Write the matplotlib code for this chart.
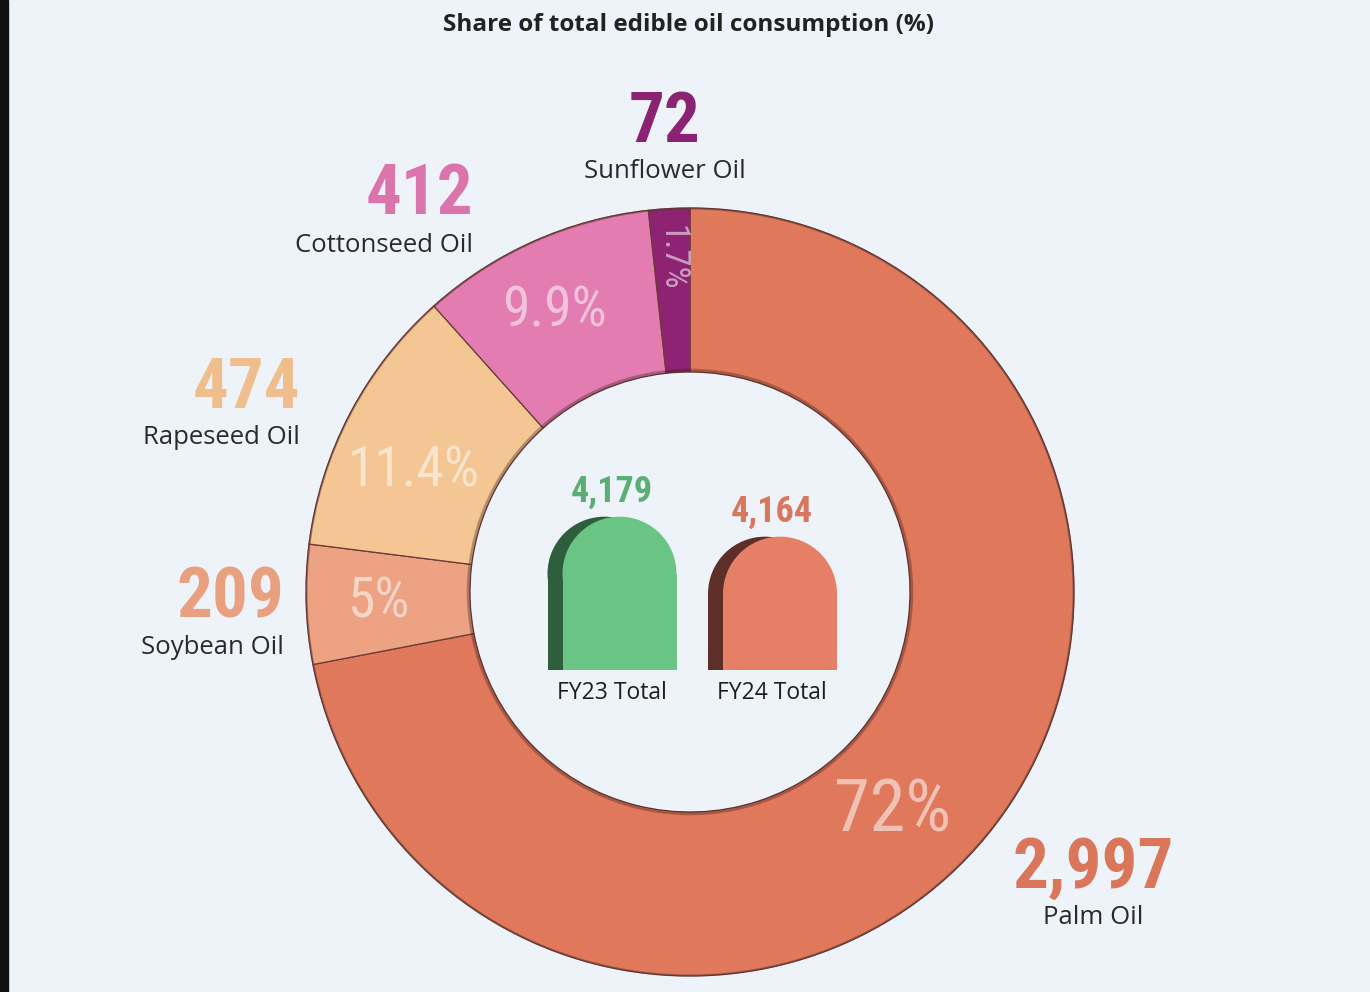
import matplotlib
matplotlib.use('Agg')
import matplotlib.pyplot as plt
from matplotlib.patches import Ellipse, Circle, Rectangle
import numpy as np

# data
OILS = ['Palm Oil', 'Soybean Oil', 'Rapeseed Oil', 'Cottonseed Oil', 'Sunflower Oil']
VOLUMES = [2997, 209, 474, 412, 72]
SHARE_LABELS = ['72%', '5%', '11.4%', '9.9%', '1.7%']
TOTAL_NAMES = ['FY23 Total', 'FY24 Total']
TOTALS = [4179, 4164]

WEDGE_COLORS = ['#E0785C', '#ECA283', '#F3C694', '#E27CB1', '#8E2373']
VALUE_COLORS = ['#DA7659', '#E8A07F', '#F0BE8C', '#DA74AA', '#8B2372']
BAR_COLORS = ['#6AC584', '#E57F66']
BAR_SHADE = ['#2F5E3C', '#5E2F28']
TOTAL_TEXT = ['#5BAF74', '#D9765E']

BG = '#EDF3F9'
NUM_FONT = ['Roboto Condensed', 'DejaVu Sans']
TXT_FONT = ['Open Sans', 'DejaVu Sans']

W, H = 1370, 992
fig = plt.figure(figsize=(W / 100, H / 100), dpi=100, facecolor=BG)
ax = fig.add_axes([0, 0, 1, 1])
ax.set_facecolor(BG)

cx, cy, R, RIN = 690, H - 592, 384, 220
wedges, _ = ax.pie(VOLUMES, colors=WEDGE_COLORS, startangle=90, counterclock=False,
                   radius=R, center=(cx, cy),
                   wedgeprops=dict(width=R - RIN, edgecolor='#6B3B35', linewidth=0.9))
ax.add_patch(Circle((cx, cy), RIN + 1.5, fill=False, ec='#3A1F1C', lw=2.5, alpha=0.35))
ax.add_patch(Circle((cx, cy), R - 0.5, fill=False, ec='#5A3430', lw=1.5, alpha=0.5))
ax.set_xlim(0, W)
ax.set_ylim(0, H)
ax.set_aspect('auto')
ax.axis('off')

# percentage labels inside the ring
frac = [0.47, 0.5, 0.6, 0.55, 0.5]
rad = [299, 312, 302, 312, 335]
size = [52, 40, 40, 40, 25]
for w, lab, f, r, s in zip(wedges, SHARE_LABELS, frac, rad, size):
    ang = np.deg2rad(w.theta1 + f * (w.theta2 - w.theta1))
    rot = -90 if lab == '1.7%' else 0
    ax.text(cx + r * np.cos(ang), cy + r * np.sin(ang), lab, ha='center', va='center',
            family=NUM_FONT, stretch='condensed', fontsize=s, color='white', alpha=0.55,
            rotation=rot)

# outer value + name labels
val_pos = [(1093, 868, 'center'), (284, 598, 'right'), (300, 388, 'right'),
           (473, 195, 'right'), (665, 122, 'center')]
for name, v, col, (x, y, ha) in zip(OILS, VOLUMES, VALUE_COLORS, val_pos):
    ax.text(x, H - y, f'{v:,}', ha=ha, va='center', family=NUM_FONT, stretch='condensed',
            fontsize=51, color=col, weight='semibold')
    ax.text(x, H - y - 50, name, ha=ha, va='center', family=TXT_FONT, fontsize=18.5,
            color='#2A2A2A')

ax.text(689, H - 25, 'Share of total edible oil consumption (%)', ha='center', va='center',
        family=TXT_FONT, fontsize=17.5, weight='bold', color='#222222')

ax.add_patch(Rectangle((0, 0), 8, H, color='#111111'))

# centre totals as rounded-top bars
base, top = 4064, 4214
bx = fig.add_axes([530 / W, (H - 670) / H, 330 / W, 200 / H])
bx.set_xlim(530, 860)
bx.set_ylim(base, top)
bx.axis('off')
bar_x = [619.5, 780]
bw = 114
arch = (bw / 2) * (top - base) / 200
for x, v, c, sh, tc, nm in zip(bar_x, TOTALS, BAR_COLORS, BAR_SHADE, TOTAL_TEXT, TOTAL_NAMES):
    for xx, cc in [(x - 15, sh), (x, c)]:
        bx.bar(xx, v - arch - base, bottom=base, width=bw, color=cc, linewidth=0)
        bx.add_patch(Ellipse((xx, v - arch), bw, 2 * arch, color=cc, lw=0))
    bx.annotate(f'{v:,}', (x - 8, v), xytext=(0, 5), textcoords='offset points',
                ha='center', va='bottom', family=NUM_FONT, stretch='condensed',
                fontsize=26, weight='semibold', color=tc, annotation_clip=False)
    bx.annotate(nm, (x - 8, base), xytext=(0, -8), textcoords='offset points',
                ha='center', va='top', family=TXT_FONT, fontsize=16.5, color='#1E1E1E',
                annotation_clip=False)

fig.savefig('out.png', dpi=100, facecolor=BG)
